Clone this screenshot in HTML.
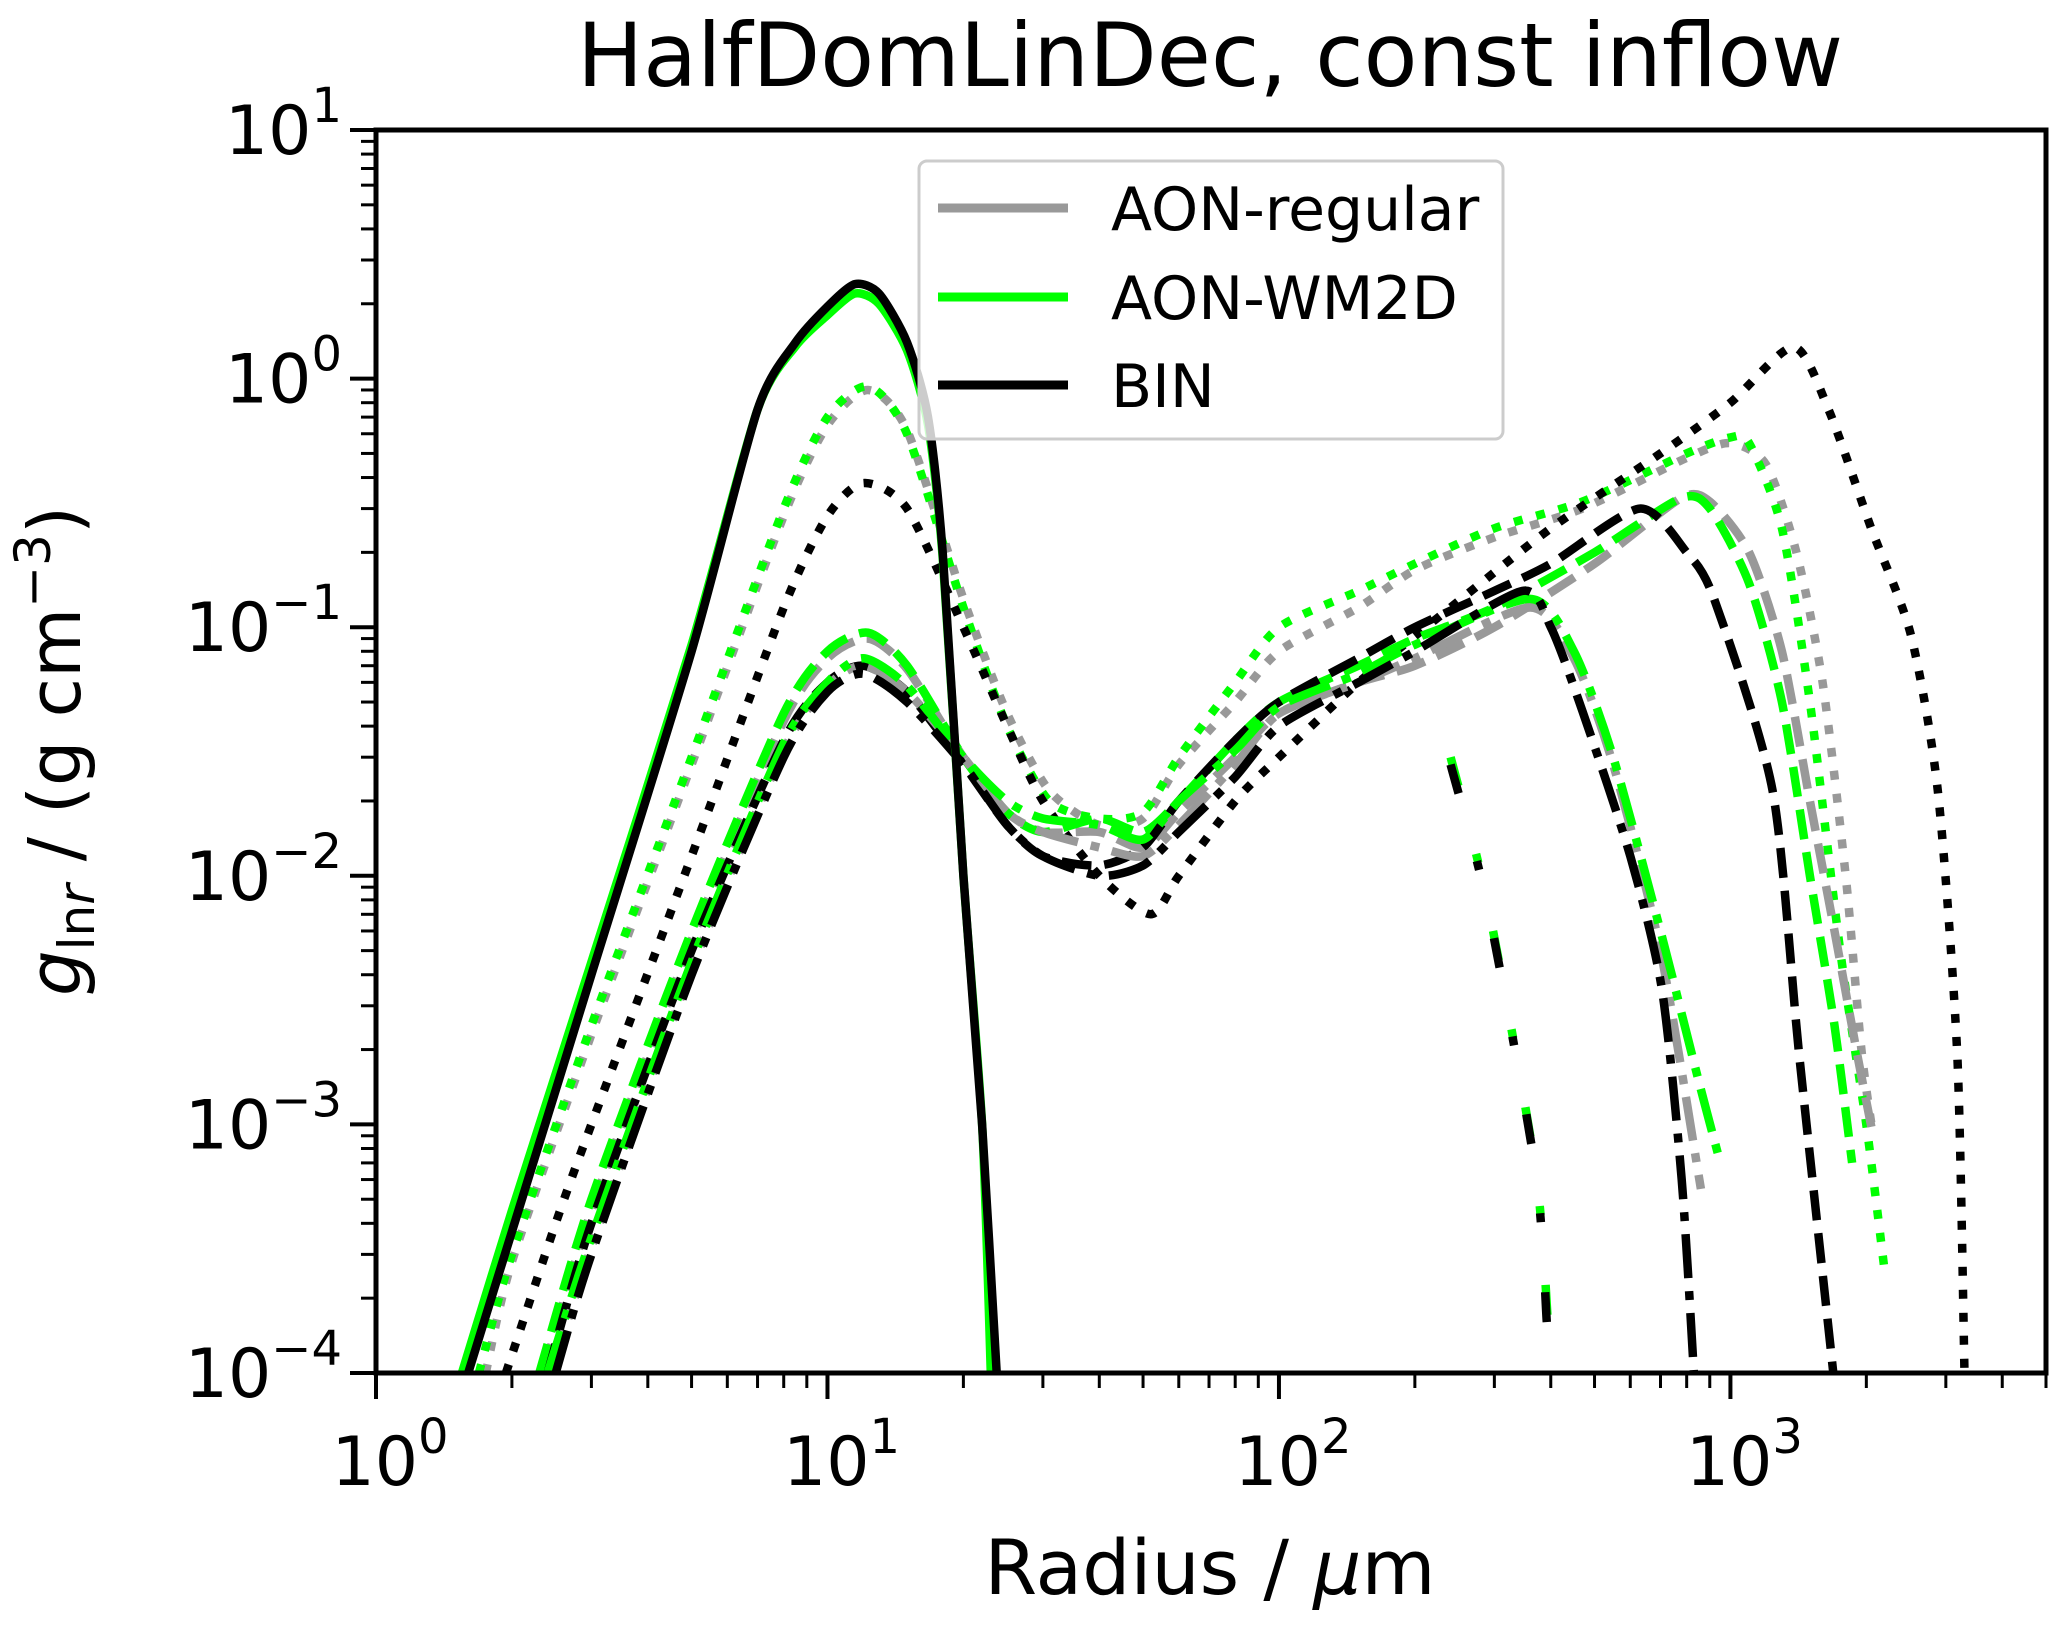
<!DOCTYPE html>
<html><head><meta charset="utf-8"><style>
html,body{margin:0;padding:0;background:#fff;}
svg{display:block;font-family:"DejaVu Sans","Liberation Sans",sans-serif;}
</style></head><body>
<svg id="chart" width="2067" height="1629" viewBox="0 0 2067 1629">
<text x="1210" y="86" font-size="88" text-anchor="middle">HalfDomLinDec, const inflow</text>
<g id="marks"></g>
<g id="axes"></g>
<text x="1210" y="1594" font-size="76" text-anchor="middle">Radius / <tspan font-style="italic">μ</tspan>m</text>
<text transform="translate(80,751) rotate(-90)" font-size="72" text-anchor="middle"><tspan font-style="italic">g</tspan><tspan font-size="50" dy="14">ln<tspan font-style="italic">r</tspan></tspan><tspan dy="-14"> / (g cm</tspan><tspan font-size="50" dy="-30">−3</tspan><tspan dy="30">)</tspan></text>
<g>
<rect x="919" y="161" width="584" height="278" rx="8" fill="#fff" fill-opacity="0.8" stroke="#ccc" stroke-width="3"/>
<line x1="938" y1="208" x2="1068" y2="208" stroke="#999" stroke-width="9"/>
<text x="1111" y="230" font-size="60">AON-regular</text>
<line x1="938" y1="297" x2="1068" y2="297" stroke="#00ff00" stroke-width="9"/>
<text x="1111" y="319" font-size="60">AON-WM2D</text>
<line x1="938" y1="385" x2="1068" y2="385" stroke="#000" stroke-width="9"/>
<text x="1111" y="407" font-size="60">BIN</text>
</g>
</svg>
<script>
const xTickVals=[1,10,100,1000];
const xTickExps=["0","1","2","3"];
const yTickVals=[1e-4,1e-3,1e-2,1e-1,1,10];
const yTickExps=["−4","−3","−2","−1","0","1"];

const solidBlackX=[1.6,2,3,5,7,8.5,10,11.5,13,15,16.7,18,20,22,23.7];
const solidBlackY=[1e-4,3.7e-4,4e-3,0.08,0.75,1.4,1.95,2.4,2.2,1.4,0.7,0.2,0.01,0.001,1e-4];
const solidGreenX=[1.55,2,3,5,7,8.5,10,11.5,13,15,16.7,18,20,22,23];
const solidGreenY=[1e-4,4.5e-4,4.5e-3,0.085,0.75,1.35,1.8,2.2,2.0,1.3,0.65,0.19,0.01,0.001,1e-4];
const dottedGreenX=[1.69,2,3,5,8,10,12.3,15,20,25,31,40,50,60,80,100,150,200,300,470,800,1000,1100,1300,1500,1750,2000,2200];
const dottedGreenY=[1e-4,3e-4,2.5e-3,0.03,0.3,0.7,0.93,0.6,0.12,0.04,0.02,0.017,0.018,0.03,0.06,0.1,0.14,0.18,0.25,0.32,0.5,0.58,0.55,0.25,0.05,5e-3,1e-3,2.5e-4];
const dottedGrayX=[1.75,2,3,5,8,10,12.3,15,20,25,31,40,50,60,80,100,150,200,300,470,800,1000,1200,1400,1600,1800,1950,2070];
const dottedGrayY=[1e-4,2.8e-4,2.3e-3,0.028,0.28,0.65,0.9,0.62,0.13,0.045,0.022,0.016,0.017,0.028,0.05,0.08,0.12,0.17,0.23,0.3,0.48,0.55,0.45,0.2,0.06,0.01,2e-3,9e-4];
const dottedBlackX=[1.94,2.5,3,5,8,10,12,15,20,25,30,40,52,60,80,100,150,240,400,700,1000,1380,1650,2050,2510,2880,3180,3300];
const dottedBlackY=[1e-4,4e-4,1e-3,0.012,0.12,0.28,0.38,0.3,0.1,0.04,0.02,0.01,0.007,0.01,0.02,0.03,0.06,0.12,0.25,0.5,0.8,1.34,0.75,0.25,0.093,0.022,1.9e-3,1e-4];
const dashedGrayX=[2.35,3,5,8,10,12.3,15,20,25,30,40,50,60,80,100,150,200,300,500,776,900,1100,1300,1500,1700,1900,2070];
const dashedGrayY=[1e-4,4.5e-4,5.5e-3,0.042,0.075,0.09,0.068,0.03,0.018,0.015,0.015,0.013,0.018,0.03,0.045,0.06,0.07,0.1,0.18,0.33,0.32,0.2,0.08,0.02,6e-3,2e-3,9e-4];
const dashedGreenX=[2.3,3,5,8,10,12.3,15,20,25,30,40,50,60,80,100,150,200,300,500,776,900,1100,1300,1500,1700,1860];
const dashedGreenY=[1e-4,5e-4,6e-3,0.045,0.08,0.095,0.07,0.03,0.018,0.015,0.017,0.015,0.02,0.035,0.05,0.07,0.09,0.12,0.2,0.33,0.3,0.15,0.05,0.01,2.5e-3,7e-4];
const dashedBlackX=[2.4,3,5,8,10,12,15,20,25,30,40,50,60,80,100,150,200,300,400,630,800,920,1240,1420,1690];
const dashedBlackY=[1e-4,4e-4,5e-3,0.035,0.06,0.07,0.055,0.028,0.016,0.012,0.011,0.013,0.02,0.035,0.05,0.075,0.1,0.14,0.18,0.3,0.2,0.13,0.022,1.9e-3,1e-4];
const dashdotGrayX=[2.45,3,5,8,10,12,15,20,25,30,40,50,60,80,100,150,200,360,450,550,700,860];
const dashdotGrayY=[1e-4,3.2e-4,4.2e-3,0.032,0.058,0.07,0.055,0.03,0.018,0.015,0.013,0.012,0.016,0.028,0.045,0.06,0.075,0.12,0.075,0.028,5e-3,5.5e-4];
const dashdotGreenX=[2.4,3,5,8,10,12,15,20,25,30,40,50,60,80,100,150,200,360,450,550,700,850,950];
const dashdotGreenY=[1e-4,3.5e-4,4.5e-3,0.034,0.06,0.075,0.058,0.03,0.02,0.017,0.016,0.014,0.02,0.032,0.048,0.065,0.085,0.13,0.08,0.03,6e-3,1.5e-3,7e-4];
const dashdotBlackX=[2.5,3,5,8,10,12,15,20,25,30,40,50,60,80,100,150,200,346,400,470,600,705,780,830];
const dashdotBlackY=[1e-4,3e-4,4e-3,0.03,0.055,0.065,0.05,0.028,0.016,0.012,0.01,0.011,0.015,0.025,0.04,0.06,0.08,0.14,0.1,0.046,0.012,3.5e-3,6e-4,1e-4];
const steepGreenX=[240,290,370,395];
const steepGreenY=[0.03,7.7e-3,6.6e-4,1.5e-4];
const steepBlackX=[240,290,370,392];
const steepBlackY=[0.028,7.5e-3,6.5e-4,1.6e-4];

const L=376,R=2046,T=130,B=1373;
const xMin=0,xMax=Math.log10(5000),yMin=-4,yMax=1;
function sx(v){return L+(Math.log10(v)-xMin)/(xMax-xMin)*(R-L);}
function sy(v){return B-(Math.log10(v)-yMin)/(yMax-yMin)*(B-T);}
const NS="http://www.w3.org/2000/svg";
const marks=document.getElementById('marks');
const axes=document.getElementById('axes');
const DASH={solid:"",dotted:"9 14",dashed:"30 13",dashdot:"44 13 9 13",steep:"30 70 9 70"};
function draw(xs,ys,color,style,name){
  const p=document.createElementNS(NS,'path');
  const P=xs.map((x,i)=>[sx(x),sy(ys[i])]);
  let d='M'+P[0][0].toFixed(1)+' '+P[0][1].toFixed(1);
  for(let i=0;i<P.length-1;i++){
    const p0=P[Math.max(0,i-1)],p1=P[i],p2=P[i+1],p3=P[Math.min(P.length-1,i+2)];
    const c1=[p1[0]+(p2[0]-p0[0])/8,p1[1]+(p2[1]-p0[1])/8];
    const c2=[p2[0]-(p3[0]-p1[0])/8,p2[1]-(p3[1]-p1[1])/8];
    d+='C'+c1[0].toFixed(1)+' '+c1[1].toFixed(1)+' '+c2[0].toFixed(1)+' '+c2[1].toFixed(1)+' '+p2[0].toFixed(1)+' '+p2[1].toFixed(1);
  }
  p.setAttribute('d',d);
  p.setAttribute('fill','none');
  p.setAttribute('stroke',color);
  p.setAttribute('stroke-width','8.5');
  if(DASH[style])p.setAttribute('stroke-dasharray',DASH[style]);
  
  
  marks.appendChild(p);
}
const GRAY="#999999",GREEN="#00ff00",BLACK="#000000";
const clip=document.createElementNS(NS,'clipPath');clip.setAttribute('id','pc');
const cr=document.createElementNS(NS,'rect');cr.setAttribute('x',L);cr.setAttribute('y',T);cr.setAttribute('width',R-L);cr.setAttribute('height',B-T);
clip.appendChild(cr);document.getElementById('chart').appendChild(clip);
marks.setAttribute('clip-path','url(#pc)');
draw(dottedGrayX,dottedGrayY,GRAY,'dotted','aon-regular-dotted-line');
draw(dottedGreenX,dottedGreenY,GREEN,'dotted','aon-wm2d-dotted-line');
draw(dottedBlackX,dottedBlackY,BLACK,'dotted','bin-dotted-line');
draw(dashedGrayX,dashedGrayY,GRAY,'dashed','aon-regular-dashed-line');
draw(dashedGreenX,dashedGreenY,GREEN,'dashed','aon-wm2d-dashed-line');
draw(dashedBlackX,dashedBlackY,BLACK,'dashed','bin-dashed-line');
draw(dashdotGrayX,dashdotGrayY,GRAY,'dashdot','aon-regular-dashdot-line');
draw(dashdotGreenX,dashdotGreenY,GREEN,'dashdot','aon-wm2d-dashdot-line');
draw(dashdotBlackX,dashdotBlackY,BLACK,'dashdot','bin-dashdot-line');
draw(steepGreenX,steepGreenY,GREEN,'steep','aon-wm2d-steep-fragment-line');
draw(steepBlackX,steepBlackY,BLACK,'steep','bin-steep-fragment-line');
draw(solidGreenX,solidGreenY,GREEN,'solid','aon-wm2d-solid-line');
draw(solidBlackX,solidBlackY,BLACK,'solid','bin-solid-line');

function line(x1,y1,x2,y2,w,name){
  const l=document.createElementNS(NS,'line');
  l.setAttribute('x1',x1);l.setAttribute('y1',y1);l.setAttribute('x2',x2);l.setAttribute('y2',y2);
  l.setAttribute('stroke','#000');l.setAttribute('stroke-width',w);
  
  
  axes.appendChild(l);
}
const fr=document.createElementNS(NS,'rect');
fr.setAttribute('x',L);fr.setAttribute('y',T);fr.setAttribute('width',R-L);fr.setAttribute('height',B-T);
fr.setAttribute('fill','none');fr.setAttribute('stroke','#000');fr.setAttribute('stroke-width','5');


axes.appendChild(fr);
function tickLabel(x,y,exp,anchor,name){
  const t=document.createElementNS(NS,'text');
  t.setAttribute('x',x);t.setAttribute('y',y);t.setAttribute('font-size','68');t.setAttribute('text-anchor',anchor);
  t.innerHTML='10<tspan font-size="48" dy="-32">'+exp+'</tspan>';
  
  
  axes.appendChild(t);
}
xTickVals.forEach((v,i)=>{
  const x=sx(v);
  line(x,B,x,B+26,4,'x-major-tick');
  tickLabel(x+14,B+112,xTickExps[i],'middle','x-tick-label');
  for(let k=2;k<=9;k++){const m=v*k;if(Math.log10(m)<=xMax)line(sx(m),B,sx(m),B+15,3,'x-minor-tick');}
});
yTickVals.forEach((v,i)=>{
  const y=sy(v);
  line(L-26,y,L,y,4,'y-major-tick');
  tickLabel(L-34,y+24,yTickExps[i],'end','y-tick-label');
  if(v<10)for(let k=2;k<=9;k++){line(L-15,sy(v*k),L,sy(v*k),3,'y-minor-tick');}
});
</script>
</body></html>
